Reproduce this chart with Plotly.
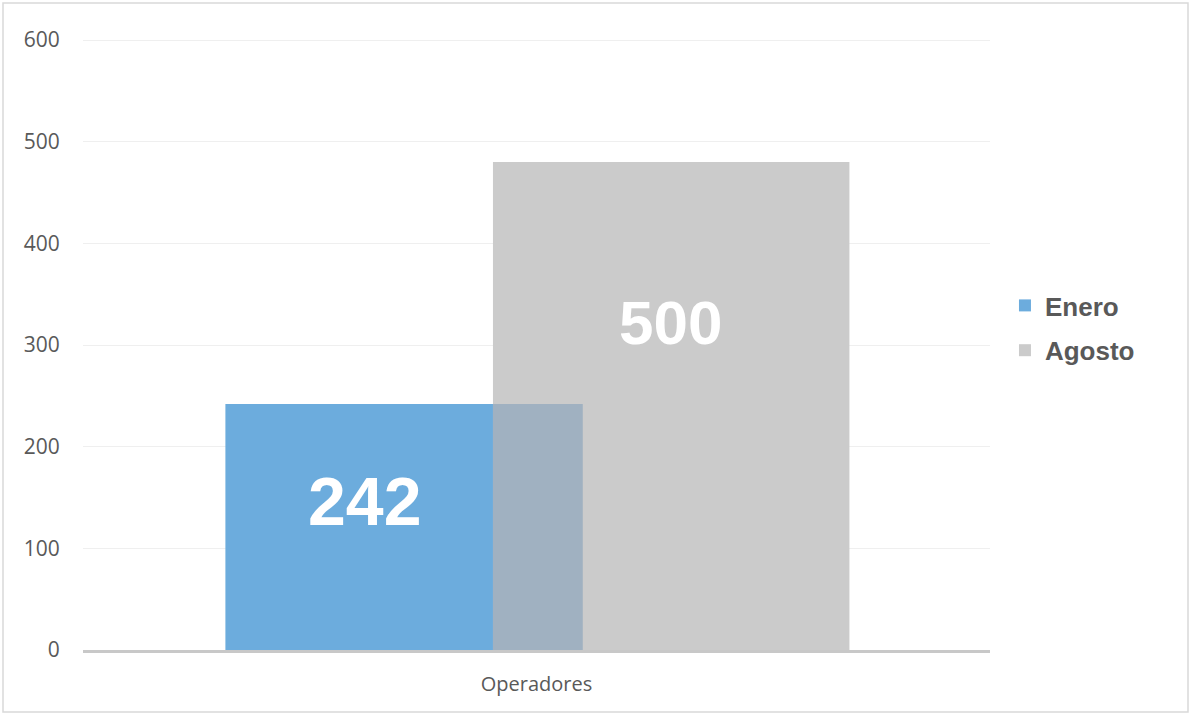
import plotly.graph_objects as go

category = ["Operadores"]
series = ["Enero", "Agosto"]
enero = [242]
agosto = [480]
bar_labels = ["242", "500"]

blue = "#6cacdd"
gray = "#cbcbcb"
overlap_col = "#a0b1c1"

# bar placement inside the single category slot
enero_off, enero_w = -0.343, 0.394
agosto_off, agosto_w = -0.048, 0.393

fig = go.Figure()
fig.add_trace(go.Bar(x=category, y=enero, name=series[0], marker_color=blue,
                     offset=enero_off, width=enero_w, marker_line_width=0,
                     legendgroup="a"))
fig.add_trace(go.Bar(x=category, y=agosto, name=series[1], marker_color=gray,
                     offset=agosto_off, width=agosto_w, marker_line_width=0,
                     legendgroup="b"))
# overlapping part of the two bars
ov = [min(a, b) for a, b in zip(enero, agosto)]
fig.add_trace(go.Bar(x=category, y=ov, marker_color=overlap_col, showlegend=False,
                     offset=agosto_off, width=enero_off + enero_w - agosto_off,
                     marker_line_width=0, hoverinfo="skip"))

# big value labels
fig.add_annotation(x=-0.19, y=enero[0] * 0.605, text="<b>" + bar_labels[0] + "</b>",
                   showarrow=False,
                   font=dict(family="Liberation Sans, Arial", size=68, color="white"),
                   xref="x", yref="y")
fig.add_annotation(x=0.148, y=agosto[0] * 0.672, text="<b>" + bar_labels[1] + "</b>",
                   showarrow=False,
                   font=dict(family="Liberation Sans, Arial", size=62, color="white"),
                   xref="x", yref="y")

# outer frame
fig.add_shape(type="rect", xref="paper", yref="paper",
              x0=-0.0882, x1=1.2183, y0=-0.1015, y1=1.0589,
              line=dict(color="#d9d9d9", width=1.5), layer="below")

fig.update_layout(
    width=1194, height=716,
    margin=dict(l=83, r=204, t=39, b=66),
    barmode="overlay",
    plot_bgcolor="white", paper_bgcolor="white",
    font=dict(family="Open Sans", color="#595959", size=18),
    showlegend=True,
    legend=dict(x=1.0165, y=0.527, xanchor="left", yanchor="middle",
                font=dict(family="Liberation Sans, Arial", size=26, color="#595959",
                          weight="bold"),
                itemwidth=30, tracegroupgap=8, bgcolor="rgba(0,0,0,0)"),
    xaxis=dict(range=[-0.5, 0.5], showline=True, linecolor="#c8c8c8", linewidth=3,
               showgrid=False, ticks="outside", ticklen=14, tickcolor="rgba(0,0,0,0)",
               automargin=False,
               tickfont=dict(size=20, family="Open Sans", color="#595959")),
    yaxis=dict(range=[0, 601], dtick=100, showgrid=True, gridcolor="#efefef", gridwidth=1,
               zeroline=False, showline=False, ticks="outside", ticklen=18,
               tickcolor="rgba(0,0,0,0)", automargin=False,
               tickfont=dict(size=21, family="Open Sans", color="#595959")),
)

fig.write_html("out.html", config={"displayModeBar": False},
               post_script="document.body.style.margin='0px';")
